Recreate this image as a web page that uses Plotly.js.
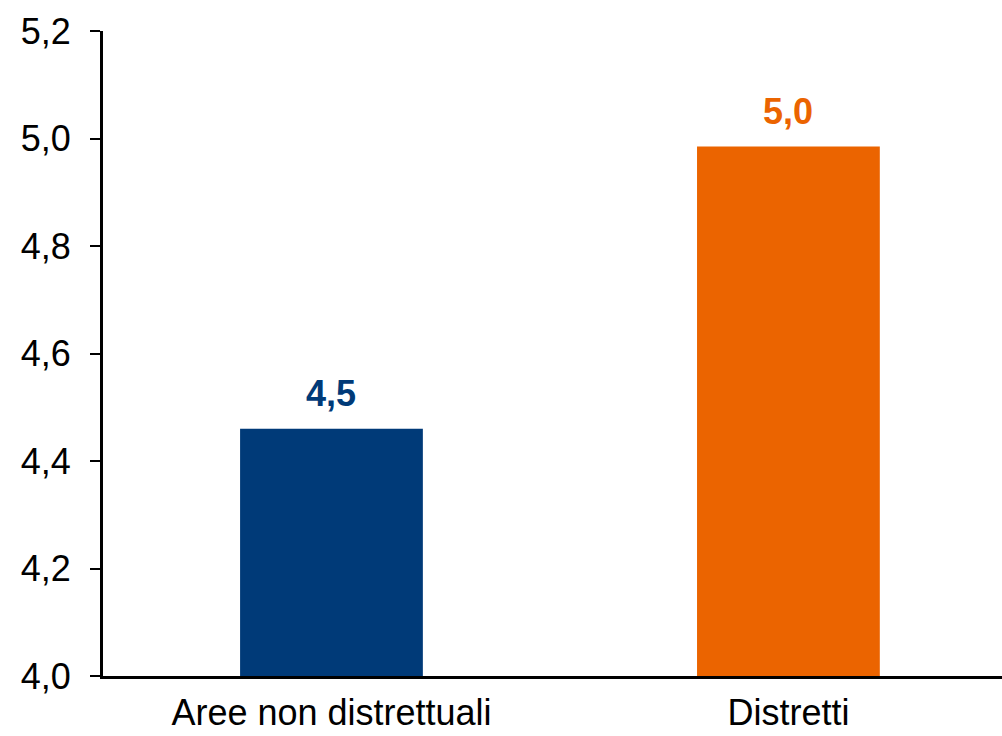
<!DOCTYPE html>
<html>
<head>
<meta charset="utf-8">
<script src="https://cdn.plot.ly/plotly-3.0.1.min.js"></script>
<style>html,body{margin:0;padding:0;background:#fff;}#chart{width:1002px;height:736px;}</style>
</head>
<body>
<div id="chart"></div>
<script>
const categories = ["Aree non distrettuali", "Distretti"];
const values = [4.46, 4.985];
const barColors = ["#003A78", "#EB6400"];
const yTicks = [4.0, 4.2, 4.4, 4.6, 4.8, 5.0, 5.2];

const fmt = v => v.toFixed(1).replace('.', ',');
const xIdx = categories.map((c, i) => i);

const trace = {
  type: 'bar',
  x: xIdx,
  y: values,
  width: 0.4,
  marker: {color: barColors},
  hoverinfo: 'skip'
};

const annotations = values.map((v, i) => ({
  x: i, y: v, xref: 'x', yref: 'y',
  text: '<b>' + fmt(v) + '</b>',
  showarrow: false,
  yanchor: 'bottom',
  yshift: 13,
  font: {family: 'Liberation Sans, Arial, sans-serif', size: 36, color: barColors[i]}
}));

const layout = {
  width: 1002, height: 736,
  margin: {l: 103, r: 0, t: 30.5, b: 60, pad: 0},
  paper_bgcolor: '#fff', plot_bgcolor: '#fff',
  showlegend: false,
  separators: ',.',
  font: {family: 'Liberation Sans, Arial, sans-serif', size: 36, color: '#000'},
  xaxis: {
    range: [-0.5, 1.4674],
    tickvals: xIdx,
    ticktext: categories,
    showgrid: false, zeroline: false,
    showline: true, linecolor: '#000', linewidth: 3,
    ticks: '', ticklabelstandoff: 3,
    tickfont: {size: 36, color: '#000'}
  },
  yaxis: {
    range: [4.0, 5.2],
    tickvals: yTicks,
    tickformat: '.1f',
    showgrid: false, zeroline: false,
    showline: true, linecolor: '#000', linewidth: 3,
    ticks: 'outside', ticklen: 10, tickwidth: 2, tickcolor: '#000',
    ticklabelstandoff: 12,
    tickfont: {size: 36, color: '#000'}
  },
  annotations: annotations
};

Plotly.newPlot('chart', [trace], layout, {displayModeBar: false, staticPlot: true});
</script>
</body>
</html>
